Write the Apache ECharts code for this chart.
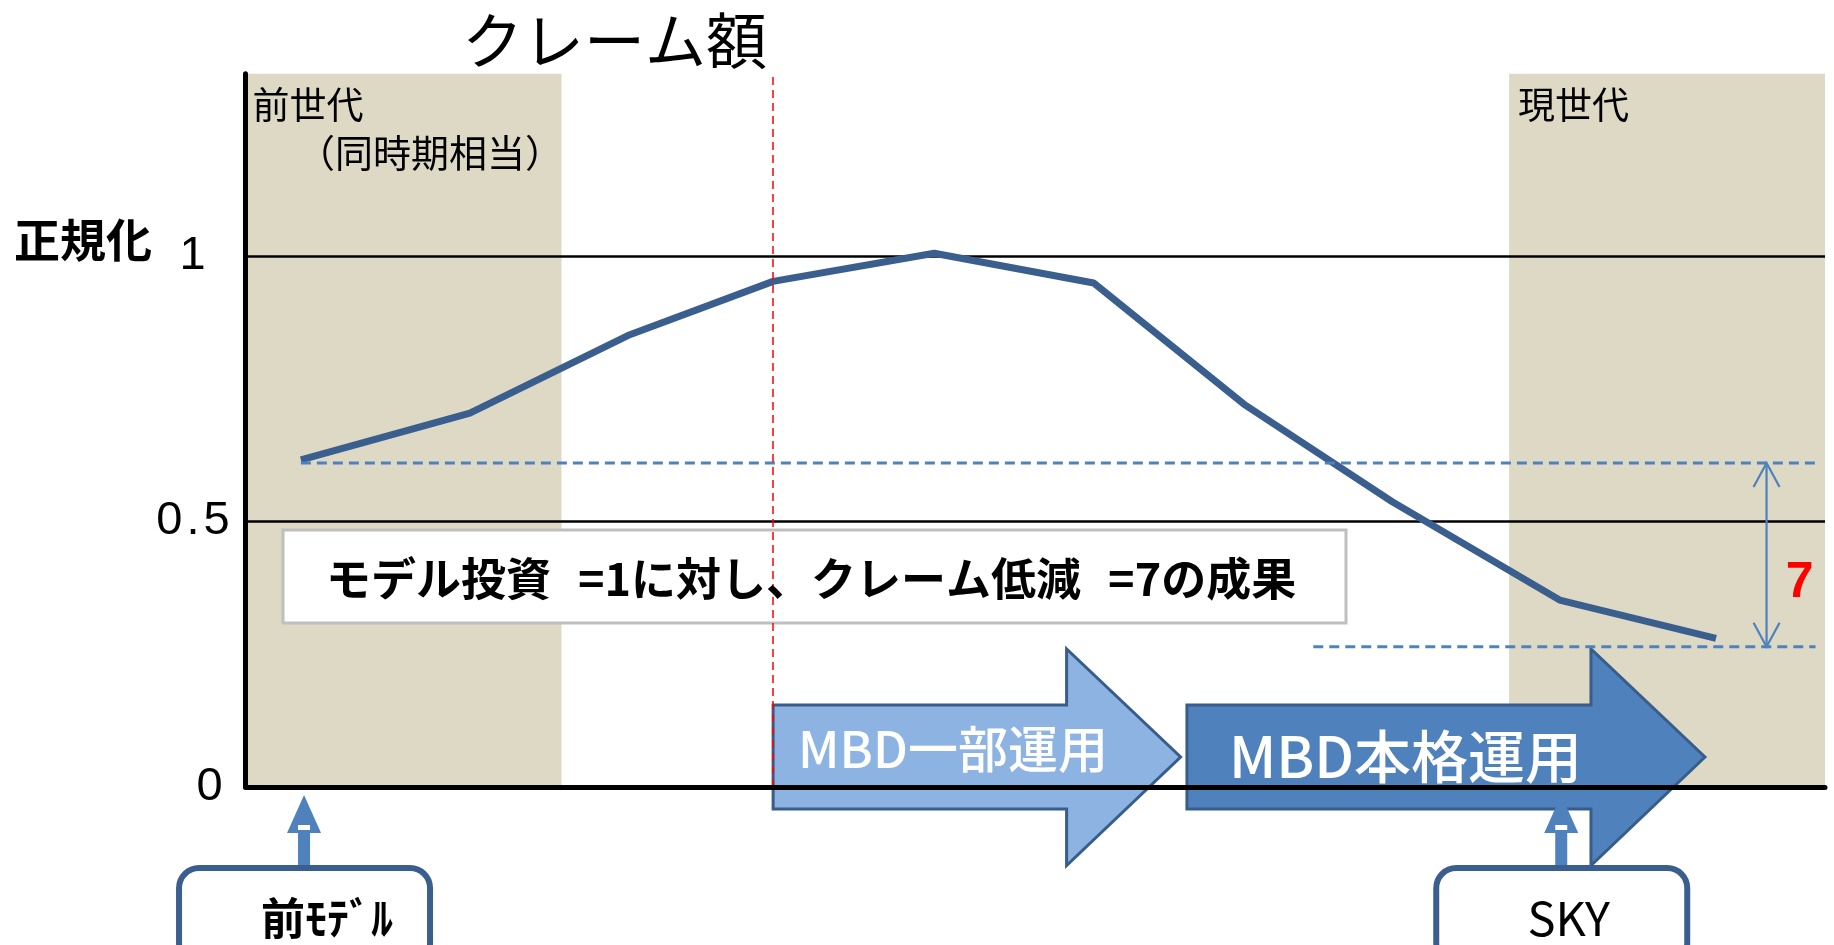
<!DOCTYPE html>
<html><head><meta charset="utf-8">
<script src="https://cdn.jsdelivr.net/npm/echarts@6/dist/echarts.min.js"></script>
<style>html,body{margin:0;padding:0;background:#fff}#c{width:1834px;height:945px}</style>
</head><body><div id="c"></div>
<script>
// ---- data ----
const xPos = [3.5, 14.2, 24.2, 33.4, 43.6, 53.7, 63.2, 72.6, 83.2, 93.1];
const claim = [0.616, 0.704, 0.850, 0.952, 1.005, 0.949, 0.721, 0.537, 0.352, 0.280];
const yMax = 1.343;
const bandStart = [0, 80];
const bandEnd = [20, 100];
const prevLevel = 0.61;
const currLevel = 0.264;
const prevLineX = [3.5, 99.4];
const currLineX = [67.6, 99.4];
const mbdStartX = 33.4;
const phaseNames = ['MBD一部運用', 'MBD本格運用'];
const phaseStart = [33.4, 59.6];
const phaseEnd = [59.2, 92.4];
const calloutNames = ['前ﾓﾃﾞﾙ', 'SKY'];
const calloutX = [3.7, 83.3];
const ratioX = 96.3;
const ratioText = '7';
const boxParts = ['モデル投資', '=1に対し、クレーム低減', '=7の成果'];
const titleText = 'クレーム額';
const yName = '正規化';

const JP = '"Noto Sans CJK JP"';
const chart = echarts.init(document.getElementById('c'), null, {renderer: 'canvas'});

chart.setOption({
  animation: false,
  backgroundColor: '#fff',
  grid: {left: 245.6, right: 9, top: 73.7, bottom: 158},
  xAxis: {
    type: 'value', min: 0, max: 100, z: 5,
    axisLine: {show: true, onZero: true, lineStyle: {color: '#000', width: 5}},
    axisTick: {show: false}, axisLabel: {show: false}, splitLine: {show: false}
  },
  yAxis: {
    type: 'value', min: 0, max: yMax, interval: 0.5, z: 1,
    axisLine: {show: true, lineStyle: {color: '#000', width: 5}},
    axisTick: {show: false},
    splitLine: {show: true, showMinLine: false, showMaxLine: false, lineStyle: {color: '#000', width: 2.5}},
    axisLabel: {
      showMaxLabel: false, margin: 16, color: '#000', fontSize: 47, fontFamily: 'Liberation Sans',
      formatter: v => v === 1 ? '{a|1}' : (v === 0 ? '{b|0}' : '{c|0}{d|.}{c|5}'),
      rich: {
        a: {padding: [0, 24, 0, 0], fontSize: 47, fontFamily: 'Liberation Sans', color: '#000'},
        b: {padding: [0, 7, 0, 0], fontSize: 47, fontFamily: 'Liberation Sans', color: '#000'},
        c: {fontSize: 47, fontFamily: 'Liberation Sans', color: '#000'},
        d: {fontSize: 47, fontFamily: 'Liberation Sans', color: '#000', padding: [0, 4, 0, 4]}
      }
    }
  },
  series: [
    {
      type: 'custom', z: 0, silent: true,
      data: bandStart.map((s, i) => [s, bandEnd[i]]),
      renderItem: (params, api) => {
        const p0 = api.coord([api.value(0), yMax]);
        const p1 = api.coord([api.value(1), 0]);
        return {type: 'rect', shape: {x: p0[0], y: p0[1], width: p1[0] - p0[0], height: p1[1] - p0[1]},
                style: {fill: '#ddd9c4'}};
      }
    },
    {
      type: 'line', z: 3, symbol: 'none', silent: true,
      data: xPos.map((x, i) => [x, claim[i]]),
      lineStyle: {color: '#3a5f8f', width: 7},
      markLine: {
        symbol: 'none', silent: true, label: {show: false},
        lineStyle: {color: '#ff0000', type: [8, 5], width: 1.5},
        data: [{xAxis: mbdStartX}]
      }
    },
    {
      type: 'line', z: 3, symbol: 'none', silent: true,
      data: prevLineX.map(x => [x, prevLevel]),
      lineStyle: {color: '#4f81bd', width: 3, type: [10, 6]}
    },
    {
      type: 'line', z: 3, symbol: 'none', silent: true,
      data: currLineX.map(x => [x, currLevel]),
      lineStyle: {color: '#4f81bd', width: 3, type: [10, 6]}
    }
  ]
});

const px = (x, y) => chart.convertToPixel({gridIndex: 0}, [x, y]);
const y0 = px(0, 0)[1];
const g = [];
function txt(text, x, y, font, fill, align, z, rich) {
  const style = {text, x, y, font, fill: fill || '#000', align: align || 'left', textAlign: align || 'left',
            verticalAlign: 'middle', textVerticalAlign: 'middle'};
  if (rich) style.rich = rich;
  g.push({type: 'text', z: z || 10, silent: true, style});
}

// titles and labels
txt(titleText, 462, 41, 'normal 61px ' + JP);
txt(yName, 14, 240, 'bold 46px ' + JP);
txt('前世代', px(bandStart[0], 0)[0] + 7, 105, 'normal 37px ' + JP);
txt('（同時期相当）', 430, 153, 'normal 38px ' + JP, '#000', 'center');
txt('現世代', px(bandStart[1], 0)[0] + 9, 105, 'normal 37px ' + JP);

// text box
g.push({type: 'rect', z: 4, silent: true, shape: {x: 283, y: 530, width: 1063, height: 93},
  style: {fill: '#fff', stroke: '#bfbfbf', lineWidth: 3}});
const bf = 'bold 45px ' + JP;
txt('{t|' + boxParts[0] + '}{s|}{t|' + boxParts[1] + '}{s|}{t|' + boxParts[2] + '}', 326, 579, bf, '#000', 'left', 5,
  {t: {font: bf, fill: '#000'}, s: {width: 27, font: bf}});

// phase arrows
const phaseFill = ['#8db3e2', '#4f81bd'];
const phaseFont = [50, 57];
const phaseTextDx = [25, 42];
const phaseTextY = [749, 756];
phaseNames.forEach((name, i) => {
  const xs = px(phaseStart[i], 0)[0], xe = px(phaseEnd[i], 0)[0];
  const hs = xe - 114;
  const bt = y0 - 82, bb = y0 + 22, ht = y0 - 138, hb = y0 + 78.5, ty = y0 - 30;
  g.push({type: 'polygon', z: 2, silent: true,
    shape: {points: [[xs, bt], [hs, bt], [hs, ht], [xe, ty], [hs, hb], [hs, bb], [xs, bb]]},
    style: {fill: phaseFill[i], stroke: '#385d8a', lineWidth: 3, lineJoin: 'miter'}});
  txt(name, xs + phaseTextDx[i], phaseTextY[i], '500 ' + phaseFont[i] + 'px ' + JP, '#fff', 'left', 3);
});

// ratio double arrow
{
  const x = px(ratioX, 0)[0];
  const yt = px(0, prevLevel)[1], yb = px(0, currLevel)[1];
  const st = {stroke: '#4f81bd', lineWidth: 2.2, fill: null};
  g.push({type: 'line', z: 4, silent: true, shape: {x1: x, y1: yt, x2: x, y2: yb}, style: st});
  g.push({type: 'polyline', z: 4, silent: true, shape: {points: [[x - 13, yt + 24], [x, yt], [x + 13, yt + 24]]}, style: st});
  g.push({type: 'polyline', z: 4, silent: true, shape: {points: [[x - 13, yb - 24], [x, yb], [x + 13, yb - 24]]}, style: st});
  txt(ratioText, x + 33, 583, 'bold 50px "Liberation Sans"', '#ff0000', 'center', 4);
}

// callouts
const calloutFont = ['bold 44px ' + JP, 'normal 47px ' + JP];
const calloutDx = [23, 7.5];
calloutNames.forEach((name, i) => {
  const x = px(calloutX[i], 0)[0];
  g.push({type: 'polygon', z: 6, silent: true,
    shape: {points: [[x, y0 + 8], [x + 17, y0 + 46], [x + 6, y0 + 46], [x + 6, y0 + 82],
                     [x - 6, y0 + 82], [x - 6, y0 + 46], [x - 17, y0 + 46]]},
    style: {fill: '#4f81bd'}});
  g.push({type: 'rect', z: 7, silent: true, shape: {x: x - 6, y: y0 + 38, width: 12, height: 5}, style: {fill: '#fff'}});
  g.push({type: 'rect', z: 6, silent: true, shape: {x: x - 125, y: y0 + 81, width: 251, height: 95, r: 20},
    style: {fill: '#fff', stroke: '#3a5f8f', lineWidth: 6}});
  txt(name, x + calloutDx[i], y0 + 131, calloutFont[i], '#000', 'center', 7);
});

chart.setOption({graphic: g});
</script></body></html>
